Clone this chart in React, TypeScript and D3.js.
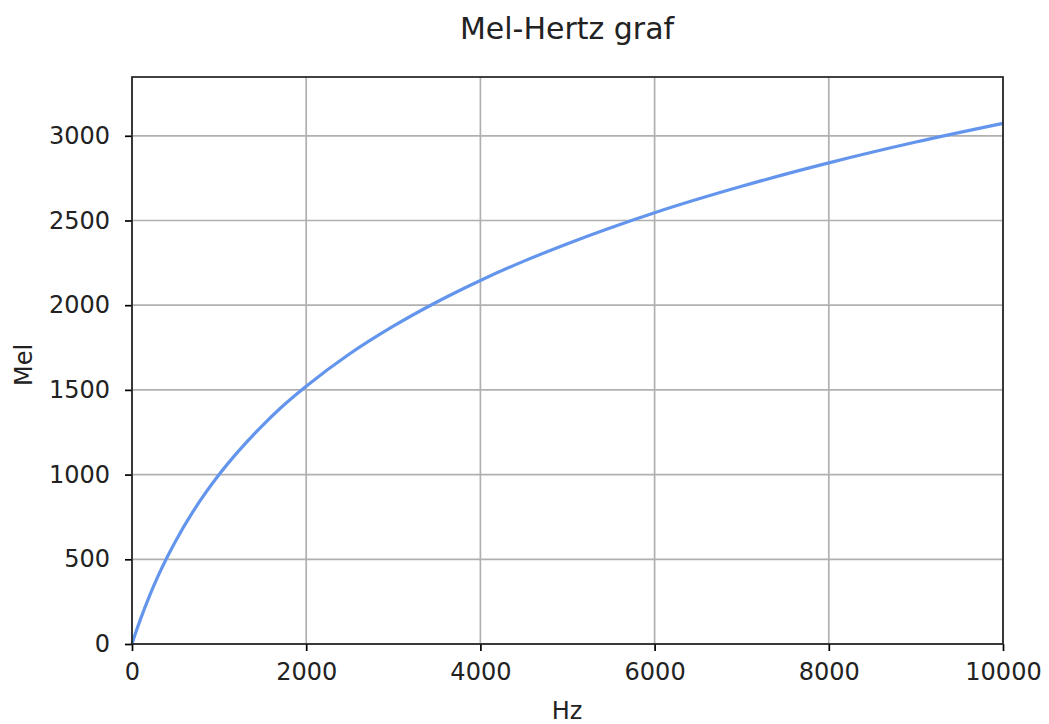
import React, { useEffect, useRef } from "react";
import { select, scaleLinear, line, curveMonotoneX, axisBottom, axisLeft } from "d3";

const hz = [0, 50, 100, 200, 300, 400, 500, 700, 1000, 1200, 1500, 1700, 2000, 2500, 3000, 3500, 4000, 4500, 5000, 6000, 7000, 8000, 9000, 10000];
const mel = [0, 78, 150, 283, 402, 509, 607, 781, 1000, 1125, 1291, 1390, 1521, 1713, 1876, 2019, 2146, 2260, 2363, 2546, 2702, 2840, 2963, 3073];
const xTicks = [0, 2000, 4000, 6000, 8000, 10000];
const yTicks = [0, 500, 1000, 1500, 2000, 2500, 3000];

const W = 1049;
const H = 724;
const m = { left: 132, right: 1003, top: 77, bottom: 644 };
const font = "DejaVu Sans, sans-serif";

function MelChart() {
  const svgRef = useRef<SVGSVGElement>(null);

  useEffect(() => {
    const svg = select(svgRef.current);
    svg.selectAll("*").remove();

    const x = scaleLinear().domain([0, 10000]).range([m.left, m.right]);
    const y = scaleLinear().domain([0, 3347]).range([m.bottom, m.top]);

    // grid
    const g = svg.append("g");
    xTicks.forEach((t) => {
      g.append("line")
        .attr("x1", x(t)).attr("x2", x(t))
        .attr("y1", m.top).attr("y2", m.bottom)
        .attr("stroke", "#b0b0b0").attr("stroke-width", 1.7);
    });
    yTicks.forEach((t) => {
      g.append("line")
        .attr("x1", m.left).attr("x2", m.right)
        .attr("y1", y(t)).attr("y2", y(t))
        .attr("stroke", "#b0b0b0").attr("stroke-width", 1.7);
    });

    const pts = hz.map((h, i) => [h, mel[i]] as [number, number]);
    const path = line<[number, number]>()
      .x((d) => x(d[0]))
      .y((d) => y(d[1]))
      .curve(curveMonotoneX);

    svg.append("path")
      .datum(pts)
      .attr("fill", "none")
      .attr("stroke", "#6495ED")
      .attr("stroke-width", 3.2)
      .attr("d", path);

    // axes
    const xa = svg.append("g")
      .attr("transform", `translate(0,${m.bottom})`)
      .call(axisBottom(x).tickValues(xTicks).tickSize(7).tickPadding(12).tickFormat((d) => String(d)));
    const ya = svg.append("g")
      .attr("transform", `translate(${m.left},0)`)
      .call(axisLeft(y).tickValues(yTicks).tickSize(7).tickPadding(15).tickFormat((d) => String(d)));
    [xa, ya].forEach((a) => {
      a.select(".domain").remove();
      a.selectAll("line").attr("stroke", "#000").attr("stroke-width", 1.7);
      a.selectAll("text").attr("font-family", font).attr("font-size", 24).attr("fill", "#222");
    });

    svg.append("rect")
      .attr("x", m.left).attr("y", m.top)
      .attr("width", m.right - m.left).attr("height", m.bottom - m.top)
      .attr("fill", "none").attr("stroke", "#222").attr("stroke-width", 1.7);

    svg.append("text")
      .attr("x", 567).attr("y", 39)
      .attr("text-anchor", "middle")
      .attr("font-family", font).attr("font-size", 30).attr("fill", "#222")
      .text("Mel-Hertz graf");

    svg.append("text")
      .attr("x", 567).attr("y", 719)
      .attr("text-anchor", "middle")
      .attr("font-family", font).attr("font-size", 24).attr("fill", "#222")
      .text("Hz");

    svg.append("text")
      .attr("transform", `translate(32,365) rotate(-90)`)
      .attr("text-anchor", "middle")
      .attr("font-family", font).attr("font-size", 24).attr("fill", "#222")
      .text("Mel");
  }, []);

  return (
    <svg
      ref={svgRef}
      width={W}
      height={H}
      style={{ position: "absolute", left: 0, top: 0, background: "#fff" }}
    ></svg>
  );
}

export default function App() {
  return <MelChart />;
}
